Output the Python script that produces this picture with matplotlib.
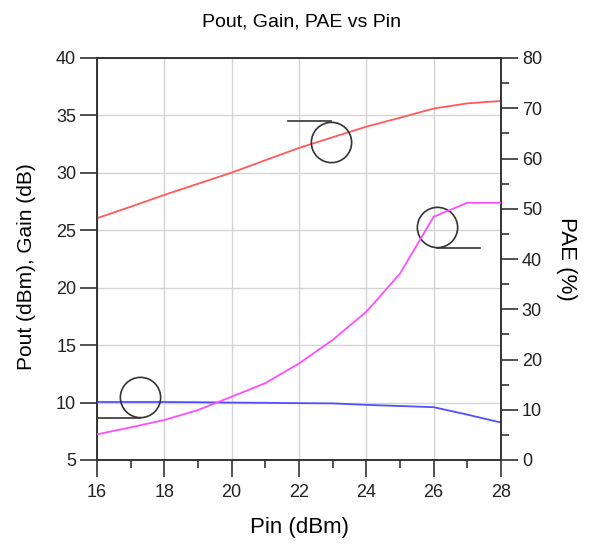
import matplotlib.pyplot as plt
from matplotlib.ticker import MultipleLocator

plt.rcParams['font.family'] = ['Liberation Sans', 'DejaVu Sans']

# data
pin = [16, 17, 18, 19, 20, 21, 22, 23, 24, 25, 26, 27, 28]
pout = [26.05, 27.05, 28.08, 29.05, 30.02, 31.1, 32.17, 33.1, 34.02, 34.8, 35.6, 36.05, 36.26]
gain = [10.05, 10.05, 10.05, 10.03, 10.0, 9.98, 9.95, 9.93, 9.8, 9.7, 9.6, 8.95, 8.26]
pae = [5.1, 6.5, 7.96, 9.95, 12.6, 15.3, 19.2, 23.9, 29.5, 37.1, 48.4, 51.2, 51.2]

# axis-marker circles: (x, y) of circle, and the flag line (x0, x1, y)
gain_mark = (17.28, 10.52, 16.0, 17.28, 8.7)
pout_mark = (22.94, 32.66, 21.68, 22.94, 34.52)
pae_mark = (26.11, 25.32, 26.11, 27.37, 23.44)

dark = '#333333'

fig = plt.figure(figsize=(5.91, 5.47), dpi=100)
ax = fig.add_axes([97 / 591, 1 - 460 / 547, 404 / 591, 402 / 547])
ax2 = ax.twinx()

ax.plot(pin, pout, color='#ff5a5a', lw=1.3, zorder=3)
ax.plot(pin, gain, color='#5050ff', lw=1.3, zorder=3)
ax2.plot(pin, pae, color='#ff4dff', lw=1.3, zorder=3)

for cx, cy, x0, x1, ly in [gain_mark, pout_mark, pae_mark]:
    ax.plot([cx], [cy], 'o', ms=29, mfc='none', mec=dark, mew=1.2, zorder=4)
    ax.plot([x0, x1], [ly, ly], color=dark, lw=1.2, zorder=4)

ax.set_xlim(16, 28)
ax.set_ylim(5, 40)
ax2.set_ylim(0, 80)

ax.xaxis.set_major_locator(MultipleLocator(2))
ax.xaxis.set_minor_locator(MultipleLocator(1))
ax.yaxis.set_major_locator(MultipleLocator(5))
ax2.yaxis.set_major_locator(MultipleLocator(10))
ax2.yaxis.set_minor_locator(MultipleLocator(5))

ax.grid(True, which='major', color='#d4d4d4', lw=1.0)
ax.set_axisbelow(True)

for a in (ax, ax2):
    for s in a.spines.values():
        s.set_color(dark)
        s.set_linewidth(1.2)
    a.tick_params(which='major', direction='out', length=12, width=1.2, color=dark,
                  labelsize=13, labelcolor='#222222', pad=3)
    a.tick_params(which='minor', direction='out', length=6, width=1.2, color=dark)
ax.tick_params(axis='x', which='major', pad=5)

ax.set_xlabel('Pin (dBm)', fontsize=16, va='center')
ax.xaxis.set_label_coords(0.5, (460 - 527) / 402)
ax.set_ylabel('Pout (dBm), Gain (dB)', fontsize=15, va='center')
ax.yaxis.set_label_coords((27 - 97) / 404, 0.48)
ax2.set_ylabel('PAE (%)', fontsize=16, rotation=270, va='center')
ax2.yaxis.set_label_coords((567 - 97) / 404, 0.5)
fig.text(0.5 * (97 + 501) / 591 + 0.005, 1 - 22 / 547, 'Pout, Gain, PAE vs Pin',
         fontsize=14, ha='center', va='center')

fig.savefig('out.png', dpi=100)
